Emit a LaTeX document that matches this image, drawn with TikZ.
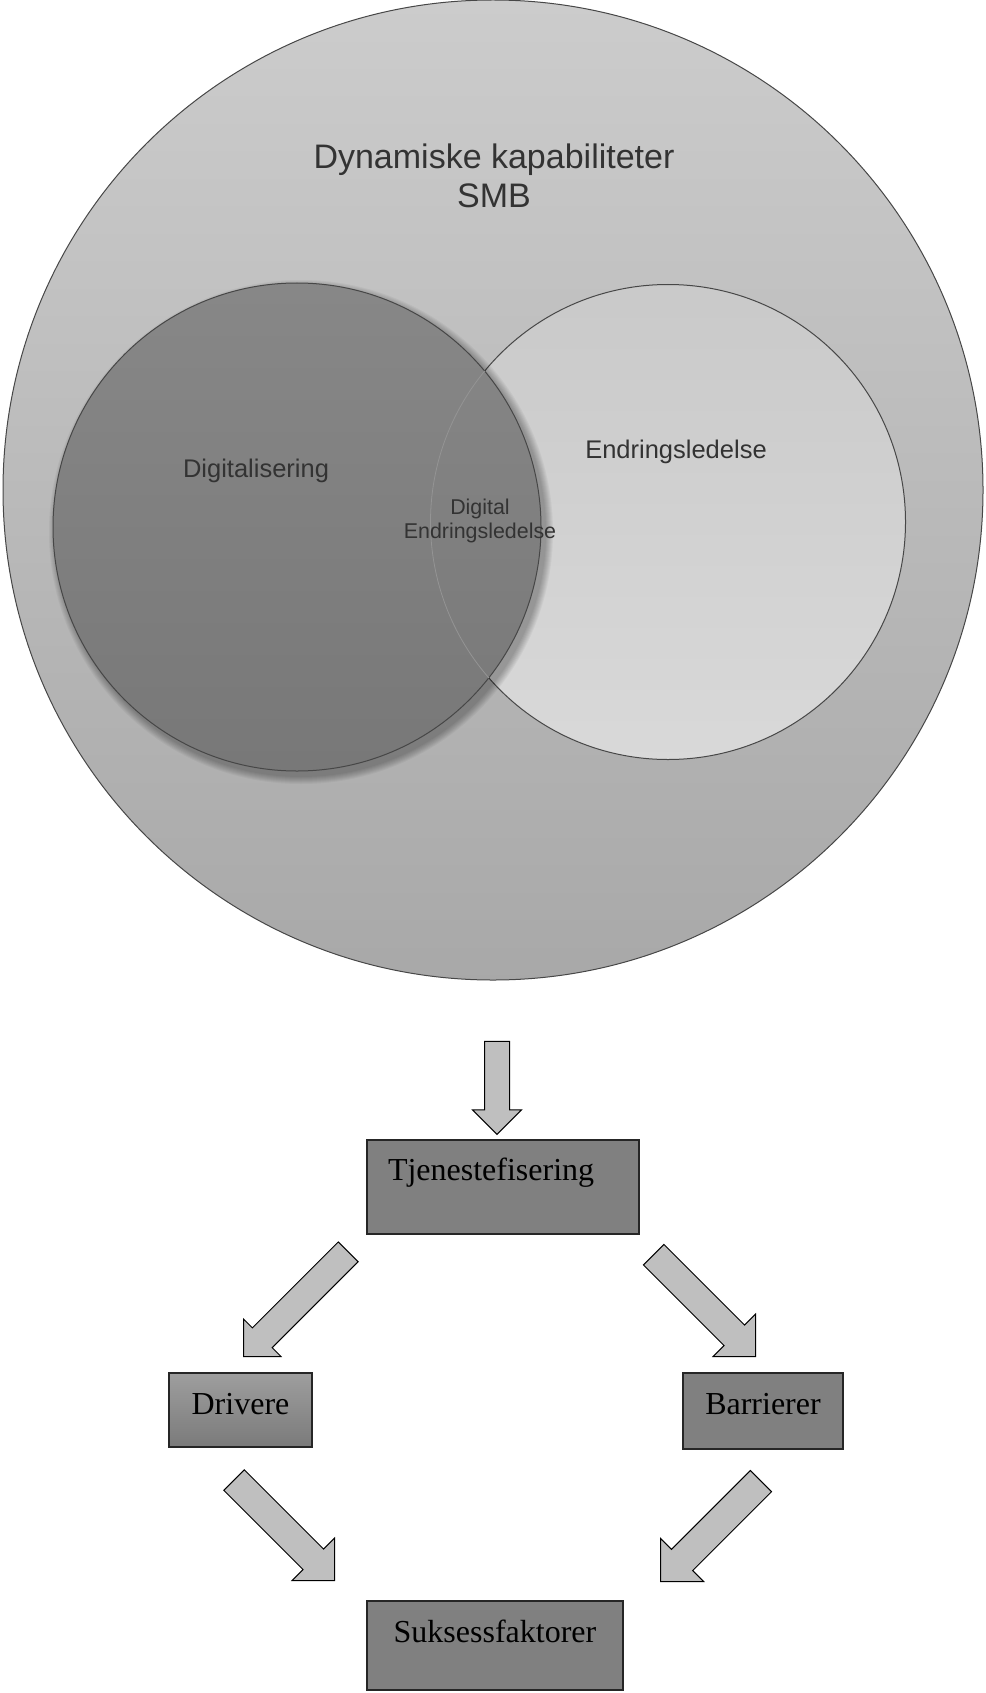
\documentclass[tikz,border=0pt]{standalone}
\usepackage{fontspec}
\setmainfont{Liberation Serif}
\setsansfont{Liberation Sans}
\usetikzlibrary{shapes.arrows}
\tikzset{
    venn-set/.style = {circle, draw=black!72, line width=1pt, inner sep=0pt},
    venn-label/.style = {text=black!80, align=center, inner sep=0pt},
    grey-box/.style = {draw=black!85, fill=black!50, line width=1.2pt, rectangle, inner sep=0pt, text height=41pt, font=\fontsize{32}{38}\selectfont},
    block-arrow/.style = {single arrow, draw=black, fill=black!25, line width=1pt, inner sep=0pt, single arrow tip angle=90, anchor=tip},
}

\begin{document}
\begin{tikzpicture}[x=1pt, y=-1pt]
\useasboundingbox (0,0) rectangle (985,1693);
\node[venn-set, minimum size=980pt, top color=black!20, bottom color=black!34] (dyn) at (493,490) {};
\node[venn-set, minimum size=475pt, top color=black!21, bottom color=black!15] (endr) at (668,522) {};
\foreach \r in {1,...,8}
    \fill[black, opacity=0.04] (301,532) circle[radius={(244+\r)*1pt}];
\node[venn-set, minimum size=488pt, top color=black!47, bottom color=black!53] (digi) at (297,527) {};
\begin{scope}
    \clip (297,527) circle[radius=244pt];
    \draw[black!42, line width=0.8pt] (668,522) circle[radius=237.5pt];
\end{scope}
\node[venn-label, font=\sffamily\fontsize{34}{39}\selectfont] (dyn-label) at (494,176) {Dynamiske kapabiliteter\\SMB};
\node[venn-label, font=\sffamily\fontsize{25.5}{30}\selectfont] (digi-label) at (256,471) {Digitalisering};
\node[venn-label, font=\sffamily\fontsize{25.5}{30}\selectfont] (endr-label) at (676,452) {Endringsledelse};
\node[venn-label, font=\sffamily\fontsize{21.4}{24}\selectfont] (both-label) at (480,521) {Digital\\Endringsledelse};

\node[grey-box, inner xsep=21pt, text width=230pt, align=left, text height=40pt, text depth=54pt] (tjen) at (503,1187) {Tjenestefisering};
\node[grey-box, minimum width=143pt, text depth=33pt, top color=black!38, bottom color=black!52] (driv) at (240.5,1410) {Drivere};
\node[grey-box, minimum width=160pt, text depth=35pt] (barr) at (763,1411) {Barrierer};
\node[grey-box, minimum width=256pt, text depth=48pt] (suks) at (495,1645.5) {Suksessfaktorer};

\node[block-arrow, minimum height=93pt, inner ysep=12pt, single arrow head extend=12pt, rotate=-90] (arr-in) at (497,1135) {};
\node[block-arrow, minimum height=148pt, inner ysep=13.5pt, single arrow head extend=12.5pt, rotate=225] (arr-tj-dr) at (243,1357) {};
\node[block-arrow, minimum height=144pt, inner ysep=14pt, single arrow head extend=15.5pt, rotate=-45] (arr-tj-ba) at (756,1357) {};
\node[block-arrow, minimum height=142pt, inner ysep=14pt, single arrow head extend=15.5pt, rotate=-45] (arr-dr-su) at (335,1581) {};
\node[block-arrow, minimum height=142pt, inner ysep=14.5pt, single arrow head extend=15.5pt, rotate=225] (arr-ba-su) at (660,1582) {};
\end{tikzpicture}
\end{document}
